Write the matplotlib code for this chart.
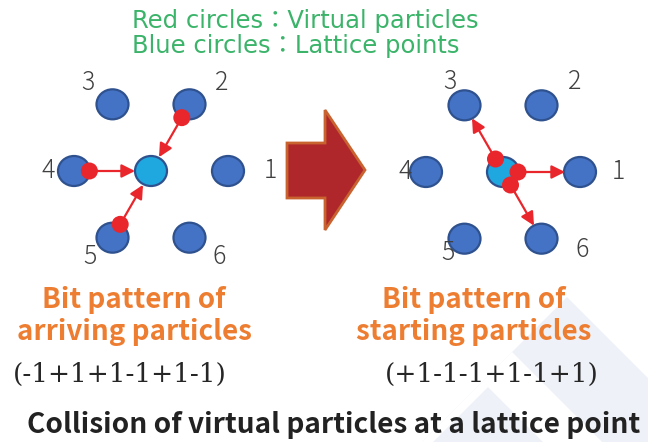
import numpy as np
import matplotlib
matplotlib.use('Agg')
import matplotlib.pyplot as plt
from matplotlib.patches import Ellipse, Polygon, FancyArrowPatch

# Diagram content
directions = [1, 2, 3, 4, 5, 6]
arriving_from = [2, 4, 5]
starting_to = [3, 1, 6]
arriving_bits = [-1, +1, +1, -1, +1, -1]
starting_bits = [+1, -1, -1, +1, -1, +1]
legend_lines = ['Red circles：Virtual particles', 'Blue circles：Lattice points']
left_caption = ['Bit pattern of', 'arriving particles']
right_caption = ['Bit pattern of', 'starting particles']
title = 'Collision of virtual particles at a lattice point'

# Styles
kBlue = '#4472C4'
kBlueEdge = '#2F528F'
kCenter = '#1FA7DF'
kRed = '#E8262B'
kGreen = '#3BB46A'
kOrange = '#ED7D31'
kPale = '#EEF2F8'
kDigit = '#404040'


def bits_to_str(bits):
    return '(' + ''.join(('+1' if b > 0 else '-1') for b in bits) + ')'


def hex_pos(center, k, spacing):
    ang = np.deg2rad((k - 1) * 60)
    return np.array([center[0] + spacing * np.cos(ang), center[1] - spacing * np.sin(ang)])


def unit(v):
    return v / np.linalg.norm(v)


def draw_lattice(ax, center, spacing, label_pos):
    for k in directions:
        p = hex_pos(center, k, spacing)
        ax.add_patch(Ellipse(p, 32, 30, facecolor=kBlue, edgecolor=kBlueEdge, lw=1.6, zorder=3))
        ax.text(label_pos[k][0], label_pos[k][1], str(k), ha='center', va='center',
                fontsize=18, color=kDigit, family='Noto Sans CJK JP', fontweight='light', zorder=5)
    ax.add_patch(Ellipse(center, 32, 30, facecolor=kCenter, edgecolor=kBlueEdge, lw=1.6, zorder=3))


def arrow(ax, a, b):
    ax.add_patch(FancyArrowPatch(a, b, arrowstyle='-|>', mutation_scale=20, color=kRed,
                                 lw=1.6, shrinkA=0, shrinkB=0, zorder=4))


def main():
    fig = plt.figure(figsize=(6.48, 4.42), dpi=100)
    ax = fig.add_axes([0, 0, 1, 1])
    ax.set_xlim(0, 648)
    ax.set_ylim(442, 0)
    ax.axis('off')

    # Pale watermark shapes
    ax.add_patch(Polygon([(567, 297), (712, 442), (422, 442)], closed=True, facecolor=kPale, edgecolor='none', zorder=0))
    ax.add_patch(Polygon([(512, 352), (602, 442), (422, 442)], closed=True, facecolor='white', edgecolor='none', zorder=0))
    ax.add_patch(Polygon([(488, 387), (543, 442), (433, 442)], closed=True, facecolor=kPale, edgecolor='none', zorder=0))

    # Legend text
    for i, line in enumerate(legend_lines):
        ax.text(132, 28 + 25 * i, line, ha='left', va='baseline', fontsize=17.5, color=kGreen,
                family=['DejaVu Sans', 'Noto Sans CJK JP'], fontweight='normal')

    # Left: arriving particles
    lc = np.array([151.0, 171.0])
    sp = 77
    left_labels = {3: (88, 83), 2: (222, 83), 4: (48, 171), 1: (270, 171), 5: (90, 257), 6: (219, 257)}
    draw_lattice(ax, lc, sp, left_labels)
    for k in arriving_from:
        p = hex_pos(lc, k, sp)
        d = unit(lc - p)
        start = p + d * 0.2 * sp
        tip = lc - d * 16
        arrow(ax, start, tip)
        ax.add_patch(Ellipse(start, 17, 17, facecolor=kRed, edgecolor='none', zorder=6))

    # Right: starting particles
    rc = np.array([503.0, 172.0])
    right_labels = {3: (450, 82), 2: (575, 82), 4: (405, 172), 1: (618, 172), 5: (448, 253), 6: (582, 250)}
    draw_lattice(ax, rc, sp, right_labels)
    for k in starting_to:
        p = hex_pos(rc, k, sp)
        d = unit(p - rc)
        start = rc + d * 15
        tip = p - d * 15
        arrow(ax, start, tip)
        ax.add_patch(Ellipse(start, 17, 17, facecolor=kRed, edgecolor='none', zorder=6))

    # Big arrow
    ax.add_patch(Polygon([(287, 143), (325, 143), (325, 110), (365, 170), (325, 230), (325, 198), (287, 198)],
                         closed=True, facecolor='#B0272B', edgecolor='#C8622E', lw=2, zorder=2))

    # Captions
    for cx, lines in [(134, left_caption), (474, right_caption)]:
        for i, line in enumerate(lines):
            ax.text(cx, 308 + 32 * i, line, ha='center', va='baseline', fontsize=20, color=kOrange,
                    family='Noto Sans CJK JP', fontweight='bold')
    ax.text(120, 374, bits_to_str(arriving_bits), ha='center', va='center', fontsize=19,
            color='#262626', family='DejaVu Serif', fontweight='light')
    ax.text(492, 374, bits_to_str(starting_bits), ha='center', va='center', fontsize=19,
            color='#262626', family='DejaVu Serif', fontweight='light')

    ax.text(27, 433, title, ha='left', va='baseline', fontsize=20.2, color='#222222',
            family='Noto Sans CJK JP', fontweight='bold')

    fig.savefig('out.png', dpi=100)


if __name__ == "__main__":
    main()
